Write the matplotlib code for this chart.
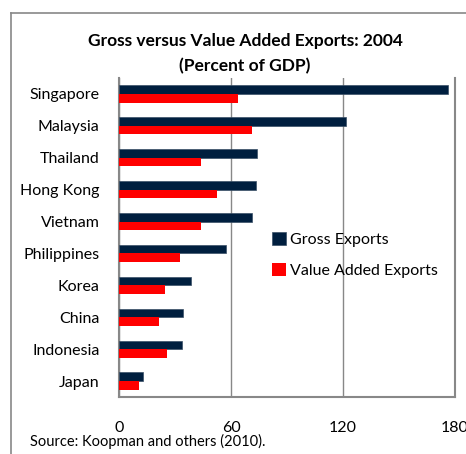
import matplotlib.pyplot as plt
import numpy as np
from matplotlib.lines import Line2D

# data (percent of GDP, 2004)
countries = ['Singapore', 'Malaysia', 'Thailand', 'Hong Kong', 'Vietnam',
             'Philippines', 'Korea', 'China', 'Indonesia', 'Japan']
gross_exports = [176.4, 121.4, 73.9, 73.2, 71.1, 57.1, 38.8, 34.5, 33.8, 13.0]
value_added = [63.6, 71.1, 43.8, 52.7, 43.8, 32.9, 24.8, 21.3, 25.6, 10.9]
x_ticks = [0, 60, 120, 180]

plt.rcParams['font.family'] = ['Lato', 'DejaVu Sans']

fig = plt.figure(figsize=(4.66, 4.54), dpi=100)
ax = fig.add_axes([119 / 466, 1 - 397 / 454, 336 / 466, 319 / 454])

y = np.arange(len(countries))
h = 0.27
ax.barh(y - h / 2, gross_exports, height=h, color='#001f3f',
        edgecolor='#3a4f66', linewidth=0.5, label='Gross Exports', zorder=3)
ax.barh(y + h / 2, value_added, height=h, color='#ff0000',
        linewidth=0, label='Value Added Exports', zorder=3)

ax.set_xlim(0, 180)
ax.set_ylim(9.5, -0.5)
ax.set_xticks(x_ticks)
ax.set_xticklabels([str(t) for t in x_ticks])
ax.set_yticks(y)
ax.set_yticklabels(countries)
ax.tick_params(axis='x', length=0, pad=17, labelsize=11.5)
ax.tick_params(axis='y', length=0, pad=14, labelsize=11.5)
ax.xaxis.grid(True, color='#888888', linewidth=1, zorder=0)

for side in ['left', 'bottom', 'right']:
    ax.spines[side].set_color('#888888')
    ax.spines[side].set_linewidth(1.5)
ax.spines['top'].set_visible(False)

fig.text(245 / 466, 1 - 41 / 454, 'Gross versus Value Added Exports: 2004',
         ha='center', va='center', fontsize=12.5, fontweight='bold')
fig.text(245 / 466, 1 - 66 / 454, '(Percent of GDP)',
         ha='center', va='center', fontsize=12.5, fontweight='bold')

ax.legend(loc='upper left', bbox_to_anchor=(264 / 466, 1 - 224 / 454),
          bbox_transform=fig.transFigure, frameon=False, fontsize=11.5,
          handlelength=0.9, handleheight=0.9, handletextpad=0.2,
          labelspacing=1.0, borderpad=0)

fig.text(30 / 466, 1 - 441 / 454, 'Source: Koopman and others (2010).',
         ha='left', va='center', fontsize=10.5)

# outer frame of the figure box
fig.add_artist(Line2D([10.5 / 466, 10.5 / 466], [0, 1 - 12.5 / 454],
                      transform=fig.transFigure, color='#888888', lw=1.2))
fig.add_artist(Line2D([10.5 / 466, 1], [1 - 12.5 / 454, 1 - 12.5 / 454],
                      transform=fig.transFigure, color='#888888', lw=1.2))

fig.savefig('out.png', dpi=100)
